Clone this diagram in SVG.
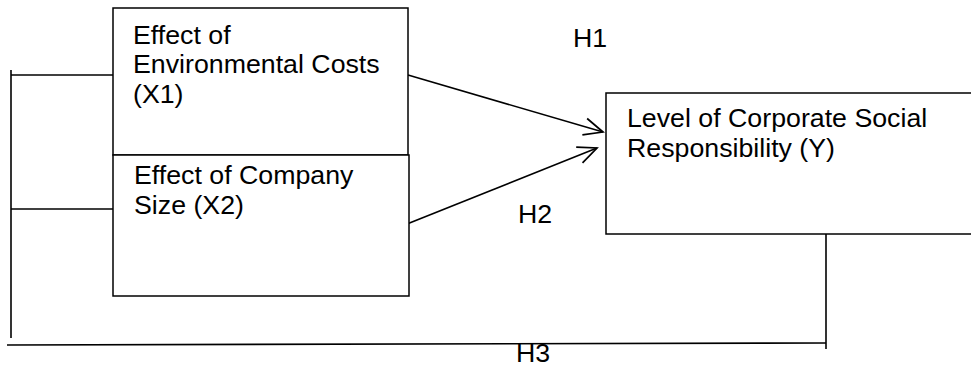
<svg xmlns="http://www.w3.org/2000/svg" width="971" height="366" viewBox="0 0 971 366">
<style>
  .box { fill: #ffffff; stroke: #000000; stroke-width: 1.5; }
  .ln { fill: none; stroke: #000000; stroke-width: 1.6; }
  text { font-family: "Liberation Sans", Arial, sans-serif; font-size: 25px; fill: #000000; }
</style>
<defs>
  <marker id="open" viewBox="0 0 22 20" refX="20" refY="10" markerWidth="22" markerHeight="20" markerUnits="userSpaceOnUse" orient="auto">
    <polyline points="1,1.5 20,10 1,18.5" fill="none" stroke="#000000" stroke-width="1.7"/>
  </marker>
</defs>
<rect width="971" height="366" fill="#ffffff"/>
<g id="connectors">
  <polyline class="ln" points="113,75 11,75"/>
  <polyline class="ln" points="11,70 11,338"/>
  <polyline class="ln" points="113,209 11,209"/>
  <polyline class="ln" points="7,345 826,343"/>
  <polyline class="ln" points="826,234 826,349"/>
  <line class="ln" x1="408" y1="75" x2="603" y2="132" marker-end="url(#open)"/>
  <line class="ln" x1="407" y1="224" x2="597" y2="148" marker-end="url(#open)"/>
</g>
<g id="x1">
  <rect class="box" x="113" y="8" width="295" height="147"/>
  <text transform="translate(133,44) scale(1.07,1)">Effect of</text>
  <text transform="translate(133,73) scale(1.07,1)">Environmental Costs</text>
  <text transform="translate(133,103) scale(1.07,1)">(X1)</text>
</g>
<g id="x2">
  <rect class="box" x="113" y="155" width="296" height="141"/>
  <text transform="translate(134,184) scale(1.07,1)">Effect of Company</text>
  <text transform="translate(134,214) scale(1.07,1)">Size (X2)</text>
</g>
<g id="y">
  <rect class="box" x="606" y="93" width="370" height="141"/>
  <text transform="translate(627,127) scale(1.07,1)">Level of Corporate Social</text>
  <text transform="translate(627,157) scale(1.07,1)">Responsibility (Y)</text>
</g>
<g id="labels">
  <text transform="translate(573,47) scale(1.07,1)">H1</text>
  <text transform="translate(518,223) scale(1.07,1)">H2</text>
  <text transform="translate(516,362) scale(1.07,1)">H3</text>
</g>
</svg>
